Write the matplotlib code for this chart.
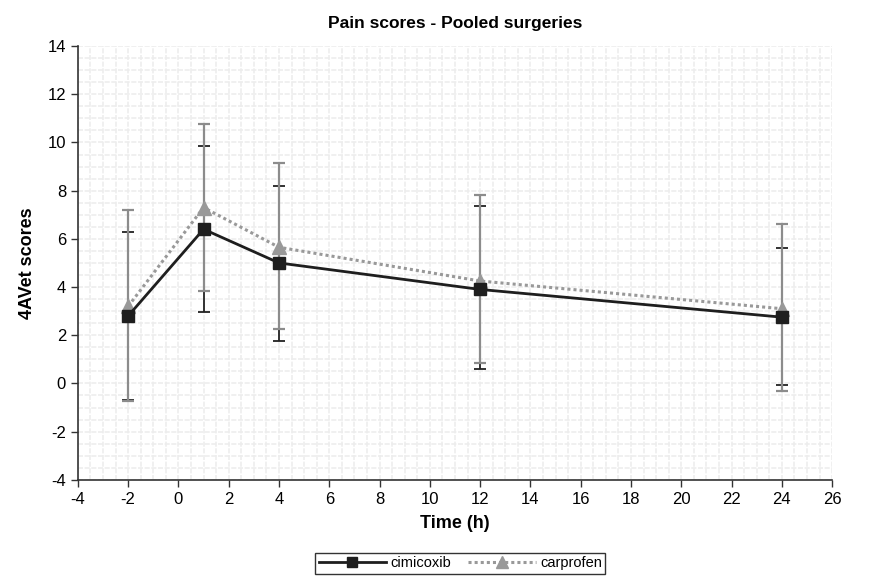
import matplotlib.pyplot as plt
from matplotlib.ticker import MultipleLocator

plt.rcParams['font.family'] = ['Liberation Sans', 'DejaVu Sans']
plt.rcParams['axes.unicode_minus'] = False

# Time points (h)
hours = [-2, 1, 4, 12, 24]

# Mean 4AVet scores and error bar bounds per drug
cimicoxib = [2.8, 6.4, 5.0, 3.9, 2.75]
cimicoxib_low = [-0.7, 2.95, 1.75, 0.6, -0.05]
cimicoxib_high = [6.3, 9.85, 8.2, 7.35, 5.6]

carprofen = [3.2, 7.3, 5.65, 4.25, 3.1]
carprofen_low = [-0.75, 3.85, 2.25, 0.85, -0.3]
carprofen_high = [7.2, 10.75, 9.15, 7.8, 6.6]

fig = plt.figure(figsize=(8.75, 5.76), dpi=100)
ax = fig.add_axes([0.089, 0.167, 0.862, 0.753])

# Error bars (mean minus low, high minus mean)
cim_err = [[m - l for m, l in zip(cimicoxib, cimicoxib_low)],
           [h - m for m, h in zip(cimicoxib, cimicoxib_high)]]
car_err = [[m - l for m, l in zip(carprofen, carprofen_low)],
           [h - m for m, h in zip(carprofen, carprofen_high)]]

ax.errorbar(hours, cimicoxib, yerr=cim_err, fmt='none', ecolor='#222222',
            elinewidth=1.3, capsize=4.5, capthick=1.3, zorder=3)
ax.errorbar(hours, carprofen, yerr=car_err, fmt='none', ecolor='#8c8c8c',
            elinewidth=1.6, capsize=4.5, capthick=1.6, zorder=4)

ax.plot(hours, carprofen, color='#999999', linestyle=(0, (1, 1)), linewidth=2.2,
        marker='^', markersize=10, markerfacecolor='#999999',
        markeredgecolor='#999999', label='carprofen', zorder=5)
ax.plot(hours, cimicoxib, color='#1e1e1e', linewidth=2, marker='s',
        markersize=9, markerfacecolor='#1e1e1e', markeredgecolor='#1e1e1e',
        label='cimicoxib', zorder=6)

ax.set_xlim(-4, 26)
ax.set_ylim(-4, 14)
ax.xaxis.set_major_locator(MultipleLocator(2))
ax.yaxis.set_major_locator(MultipleLocator(2))
ax.xaxis.set_minor_locator(MultipleLocator(0.5))
ax.yaxis.set_minor_locator(MultipleLocator(0.5))
ax.grid(True, which='both', color='#ededed', linestyle=(0, (3, 1)), linewidth=1.2, zorder=0)
ax.set_axisbelow(True)
ax.tick_params(which='minor', length=0)
ax.tick_params(which='major', labelsize=12, length=5, width=1, color='#333333')

for side in ['top', 'right']:
    ax.spines[side].set_visible(False)
for side in ['left', 'bottom']:
    ax.spines[side].set_color('#333333')
    ax.spines[side].set_linewidth(1.2)

ax.set_title('Pain scores - Pooled surgeries', fontsize=12.5, fontweight='bold', pad=13)
ax.set_xlabel('Time (h)', fontsize=13, fontweight='bold', labelpad=6)
ax.set_ylabel('4AVet scores', fontsize=13, fontweight='bold', labelpad=8)

handles, labels = ax.get_legend_handles_labels()
leg = fig.legend(handles[::-1], labels[::-1], loc='center', bbox_to_anchor=(0.526, 0.022),
                 ncol=2, fontsize=10.5, frameon=True, fancybox=False,
                 edgecolor='black', handlelength=4.6, columnspacing=1.2,
                 borderpad=0.25, handletextpad=0.3, markerscale=0.85)
leg.get_frame().set_linewidth(1)

fig.savefig('out.png', dpi=100)
